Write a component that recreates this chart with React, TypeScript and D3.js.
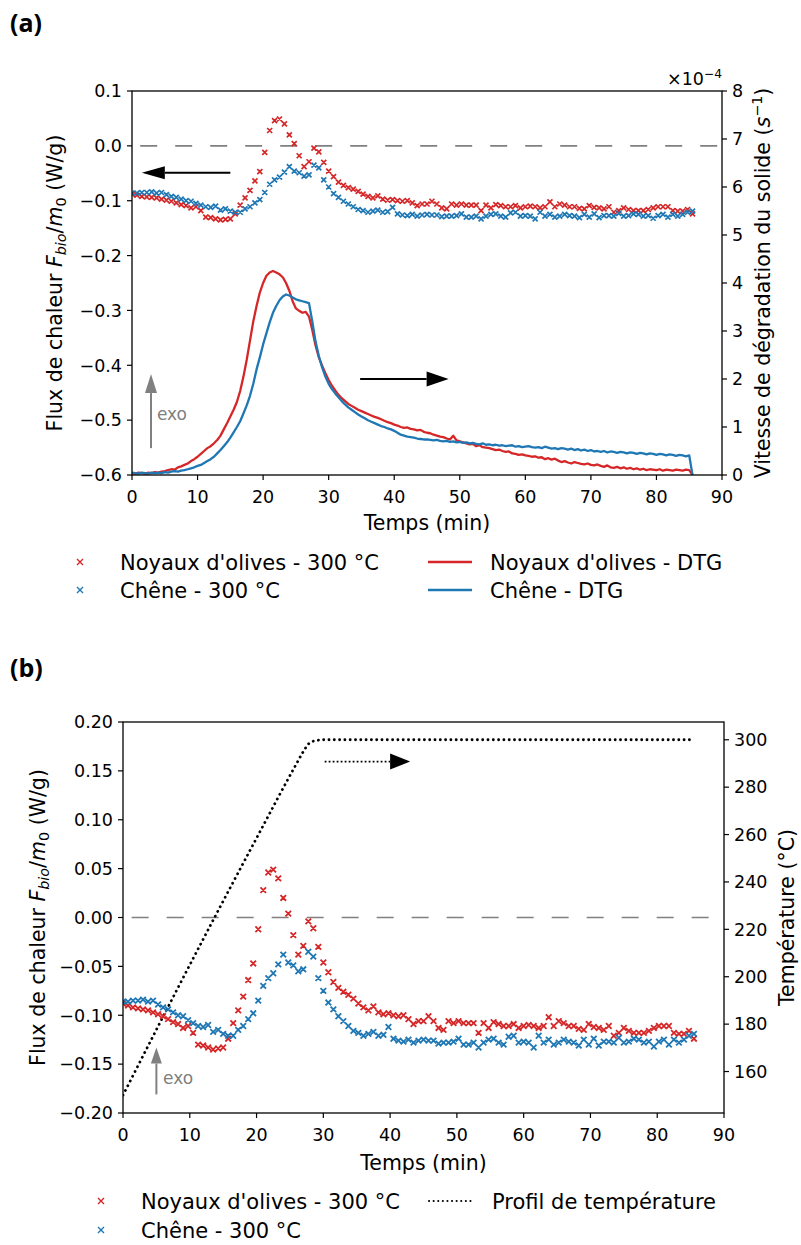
import React from "react";
import * as d3 from "d3";

const RED = "#d62728";
const BLUE = "#1f77b4";
const GRAY = "#808080";
const FONT = "'DejaVu Sans', sans-serif";
const TICK_FS = 17.5;
const LABEL_FS = 20.5;
const LEG_FS = 21;

// ---------- data ----------
// heat-flux scatter, sampled every 0.75 min
const fluxTimes = d3.range(0, 85.5 + 1e-9, 0.75);
const oliveFlux = [
  -0.088, -0.09, -0.092, -0.093, -0.094, -0.095, -0.097, -0.099, -0.101, -0.104,
  -0.107, -0.109, -0.113, -0.111, -0.118, -0.13, -0.131, -0.133, -0.135, -0.134,
  -0.133, -0.124, -0.108, -0.095, -0.081, -0.064, -0.047, -0.012, 0.028, 0.046,
  0.049, 0.04, 0.02, 0.004, -0.018, -0.038, -0.029, -0.004, -0.011, -0.03,
  -0.046, -0.056, -0.066, -0.072, -0.076, -0.079, -0.083, -0.088, -0.092, -0.095,
  -0.091, -0.097, -0.099, -0.098, -0.1, -0.101, -0.1, -0.104, -0.109, -0.106,
  -0.106, -0.101, -0.106, -0.113, -0.115, -0.106, -0.108, -0.106, -0.108, -0.108,
  -0.108, -0.118, -0.108, -0.113, -0.107, -0.109, -0.111, -0.111, -0.109, -0.113,
  -0.111, -0.11, -0.111, -0.113, -0.111, -0.102, -0.111, -0.106, -0.108, -0.111,
  -0.111, -0.114, -0.115, -0.109, -0.112, -0.113, -0.115, -0.111, -0.121, -0.118,
  -0.113, -0.116, -0.118, -0.118, -0.118, -0.116, -0.113, -0.111, -0.111, -0.111,
  -0.118, -0.119, -0.119, -0.116, -0.124,
];
const oakFlux = [
  -0.086, -0.086, -0.085, -0.085, -0.084, -0.086, -0.085, -0.089, -0.092, -0.094,
  -0.097, -0.1, -0.101, -0.105, -0.108, -0.111, -0.112, -0.11, -0.117, -0.115,
  -0.119, -0.121, -0.121, -0.115, -0.111, -0.104, -0.098, -0.085, -0.07, -0.062,
  -0.057, -0.048, -0.038, -0.046, -0.049, -0.055, -0.053, -0.035, -0.04, -0.062,
  -0.075, -0.087, -0.094, -0.101, -0.106, -0.111, -0.116, -0.118, -0.121, -0.119,
  -0.117, -0.121, -0.12, -0.112, -0.124, -0.126,
  -0.127, -0.125, -0.128, -0.126, -0.125, -0.126, -0.126, -0.129, -0.128,
  -0.128, -0.127, -0.124, -0.13, -0.13, -0.128, -0.133, -0.128, -0.125, -0.124,
  -0.128, -0.13, -0.122, -0.121, -0.128, -0.127, -0.128, -0.133, -0.121, -0.128,
  -0.125, -0.13, -0.128, -0.125, -0.127, -0.128, -0.131, -0.125, -0.13, -0.124,
  -0.131, -0.127, -0.127, -0.128, -0.123, -0.128, -0.127, -0.124, -0.125, -0.128,
  -0.127, -0.132, -0.127, -0.125, -0.13, -0.125, -0.128, -0.125, -0.121, -0.119,
];

// DTG curves (×1e-4 s^-1), sampled every 0.5 min
const dtgTimes = d3.range(0, 85.5 + 1e-9, 0.5);
const oliveDTG = [
  0.04, 0.03, 0.05, 0.04, 0.03, 0.05, 0.04, 0.06, 0.05, 0.07,
  0.08, 0.1, 0.12, 0.11, 0.16, 0.18, 0.21, 0.24, 0.29, 0.33,
  0.38, 0.44, 0.5, 0.56, 0.6, 0.66, 0.73, 0.82, 0.95, 1.08,
  1.22, 1.36, 1.52, 1.75, 2.05, 2.4, 2.8, 3.2, 3.52, 3.8,
  4.0, 4.15, 4.22, 4.25, 4.22, 4.18, 4.12, 4.0, 3.84, 3.62,
  3.47, 3.42, 3.38, 3.4, 3.3, 3.02, 2.7, 2.45, 2.28, 2.12,
  1.98, 1.86, 1.76, 1.67, 1.6, 1.54, 1.48, 1.44, 1.4, 1.36,
  1.33, 1.3, 1.27, 1.24, 1.21, 1.19, 1.16, 1.13, 1.1, 1.08,
  1.05, 1.03, 1.0, 0.98, 0.99, 0.96, 0.95, 0.93, 0.94, 0.9,
  0.88, 0.87, 0.84, 0.82, 0.8, 0.79, 0.76, 0.74, 0.82, 0.72,
  0.7, 0.68, 0.66, 0.64, 0.65, 0.6, 0.62, 0.58, 0.57, 0.56,
  0.54, 0.52, 0.53, 0.5, 0.48, 0.49, 0.45, 0.44, 0.42, 0.43,
  0.41, 0.4, 0.38, 0.39, 0.36, 0.37, 0.33, 0.35, 0.32, 0.34,
  0.3, 0.27, 0.29, 0.26, 0.24, 0.27, 0.25, 0.23, 0.22, 0.24,
  0.21, 0.2, 0.22, 0.19, 0.17, 0.2, 0.16, 0.15, 0.17, 0.14,
  0.16, 0.13, 0.15, 0.12, 0.14, 0.11, 0.13, 0.1, 0.12, 0.11,
  0.1, 0.12, 0.09, 0.11, 0.1, 0.09, 0.11, 0.1, 0.09, 0.11,
  0.1, 0.0,
];
const oakDTG = [
  0.05, 0.04, 0.03, 0.05, 0.04, 0.03, 0.05, 0.04, 0.05, 0.04,
  0.06, 0.05, 0.07, 0.08, 0.07, 0.09, 0.1, 0.12, 0.14, 0.16,
  0.19, 0.21, 0.25, 0.29, 0.33, 0.38, 0.45, 0.52, 0.6, 0.68,
  0.78, 0.89, 1.0, 1.12, 1.28, 1.45, 1.65, 1.9, 2.2, 2.45,
  2.72, 2.95, 3.18, 3.38, 3.52, 3.64, 3.72, 3.76, 3.74, 3.7,
  3.66, 3.64, 3.62, 3.6, 3.58, 3.2, 2.78, 2.48, 2.24, 2.05,
  1.9, 1.79, 1.7, 1.62, 1.54, 1.47, 1.41, 1.36, 1.31, 1.26,
  1.22, 1.18, 1.14, 1.11, 1.08, 1.05, 1.02, 1.0, 0.97, 0.95,
  0.92, 0.88, 0.84, 0.82, 0.8, 0.79, 0.78, 0.76, 0.75, 0.74,
  0.74, 0.73, 0.72, 0.73, 0.71, 0.7, 0.71, 0.69, 0.7, 0.68,
  0.69, 0.67, 0.68, 0.66, 0.67, 0.65, 0.64, 0.66, 0.63, 0.64,
  0.62, 0.63, 0.61, 0.62, 0.6, 0.61, 0.62, 0.59, 0.6, 0.58,
  0.59, 0.6, 0.58, 0.57, 0.58, 0.56, 0.59, 0.57, 0.55, 0.56,
  0.54, 0.56, 0.55, 0.53, 0.55, 0.52, 0.54, 0.51, 0.53, 0.5,
  0.52, 0.49, 0.5, 0.48, 0.5, 0.47, 0.49, 0.48, 0.46, 0.48,
  0.47, 0.45, 0.47, 0.46, 0.44, 0.46, 0.45, 0.43, 0.45, 0.44,
  0.42, 0.44, 0.43, 0.41, 0.43, 0.42, 0.4, 0.42, 0.41, 0.39,
  0.41, 0.0,
];

// temperature profile (°C)
const tempTimes = [0, 5.5, 13.8, 20, 26, 27, 28, 29, 30, 40, 50, 60, 70, 80, 85.5];
const tempValues = [150, 180.4, 225.5, 258.5, 290, 295, 298.8, 299.7, 300, 300, 300, 300, 300, 300, 300];

// ticks
const xTicks = [0, 10, 20, 30, 40, 50, 60, 70, 80, 90];
const aLeftTicks = [-0.6, -0.5, -0.4, -0.3, -0.2, -0.1, 0.0, 0.1];
const aRightTicks = [0, 1, 2, 3, 4, 5, 6, 7, 8];
const bLeftTicks = [-0.2, -0.15, -0.1, -0.05, 0.0, 0.05, 0.1, 0.15, 0.2];
const bRightTicks = [160, 180, 200, 220, 240, 260, 280, 300];

// ---------- geometry ----------
const A = { left: 132, right: 722, top: 91, bottom: 475 };
const B = { left: 123, right: 724, top: 722, bottom: 1113 };

const axA = d3.scaleLinear().domain([0, 90]).range([A.left, A.right]);
const ayA = d3.scaleLinear().domain([-0.6, 0.1]).range([A.bottom, A.top]);
const ayA2 = d3.scaleLinear().domain([0, 8]).range([A.bottom, A.top]);
const axB = d3.scaleLinear().domain([0, 90]).range([B.left, B.right]);
const ayB = d3.scaleLinear().domain([-0.2, 0.2]).range([B.bottom, B.top]);
const ayB2 = d3.scaleLinear().domain([142.5, 307.5]).range([B.bottom, B.top]);

function crossPath(xs: number[], ys: number[], sx: any, sy: any, s: number) {
  let d = "";
  xs.forEach((t, i) => {
    const x = sx(t);
    const y = sy(ys[i]);
    d += `M${x - s},${y - s}L${x + s},${y + s}M${x - s},${y + s}L${x + s},${y - s}`;
  });
  return d;
}

function Frame({ g }: { g: typeof A }) {
  return (
    <rect x={g.left} y={g.top} width={g.right - g.left} height={g.bottom - g.top}
      fill="none" stroke="#000" strokeWidth={1.3} />
  );
}

function XAxis({ g, sx }: any) {
  return (
    <g>
      {xTicks.map((t) => (
        <g key={t}>
          <line x1={sx(t)} x2={sx(t)} y1={g.bottom} y2={g.bottom + 5} stroke="#000" strokeWidth={1.2} />
          <text x={sx(t)} y={g.bottom + 28} textAnchor="middle" fontSize={TICK_FS} fontFamily={FONT} fill="#000">{t}</text>
        </g>
      ))}
    </g>
  );
}

function YAxis({ g, sy, ticks, fmt, side }: any) {
  const x0 = side === "left" ? g.left : g.right;
  const dir = side === "left" ? -1 : 1;
  return (
    <g>
      {ticks.map((v: number) => (
        <g key={v}>
          <line x1={x0} x2={x0 + dir * 5} y1={sy(v)} y2={sy(v)} stroke="#000" strokeWidth={1.2} />
          <text x={x0 + dir * 10} y={sy(v) + 6.3} textAnchor={side === "left" ? "end" : "start"}
            fontSize={TICK_FS} fontFamily={FONT} fill="#000">{fmt(v)}</text>
        </g>
      ))}
    </g>
  );
}

function FluxLabel({ x, y }: { x: number; y: number }) {
  return (
    <text transform={`translate(${x},${y}) rotate(-90)`} textAnchor="middle" fontSize={LABEL_FS} fontFamily={FONT} fill="#000">
      Flux de chaleur <tspan fontStyle="italic">F</tspan>
      <tspan fontStyle="italic" fontSize={LABEL_FS * 0.7} dy={4}>bio</tspan>
      <tspan dy={-4}>/</tspan>
      <tspan fontStyle="italic">m</tspan>
      <tspan fontSize={LABEL_FS * 0.7} dy={4}>0</tspan>
      <tspan dy={-4}> (W/g)</tspan>
    </text>
  );
}

function Arrow({ x1, y1, x2, y2, color, width, headLen, headHalf, dash }: any) {
  const ang = Math.atan2(y2 - y1, x2 - x1);
  const bx = x2 - headLen * Math.cos(ang);
  const by = y2 - headLen * Math.sin(ang);
  const px = -Math.sin(ang) * headHalf;
  const py = Math.cos(ang) * headHalf;
  return (
    <g>
      <line x1={x1} y1={y1} x2={bx} y2={by} stroke={color} strokeWidth={width} strokeDasharray={dash} />
      <polygon points={`${x2},${y2} ${bx + px},${by + py} ${bx - px},${by - py}`} fill={color} />
    </g>
  );
}

export default function App() {
  const lineA = d3.line<number>().x((_, i) => axA(dtgTimes[i])).y((v) => ayA2(v));
  const tempLine = d3.line<number>().x((_, i) => axB(tempTimes[i])).y((v) => ayB2(v)).curve(d3.curveMonotoneX);
  const fmt1 = d3.format(".1f");
  const fmt2 = d3.format(".2f");

  return (
    <svg width={801} height={1245} style={{ position: "absolute", left: 0, top: 0, background: "#fff" }}>
      <defs>
        <clipPath id="clipA"><rect x={A.left} y={A.top} width={A.right - A.left} height={A.bottom - A.top} /></clipPath>
        <clipPath id="clipB"><rect x={B.left} y={B.top} width={B.right - B.left} height={B.bottom - B.top} /></clipPath>
      </defs>
      <rect width={801} height={1245} fill="#fff" />

      {/* ================= Panel (a) ================= */}
      <text x={10} y={32} fontSize={25} fontWeight="bold" fontFamily="'Open Sans', 'Liberation Sans', sans-serif">(a)</text>

      <g clipPath="url(#clipA)">
        <line x1={axA(1.25)} x2={A.right} y1={ayA(0)} y2={ayA(0)} stroke={GRAY} strokeWidth={1.6} strokeDasharray="17 18" />
        <path d={crossPath(fluxTimes, oliveFlux, axA, ayA, 2.5)} stroke={RED} strokeWidth={1.7} fill="none" />
        <path d={crossPath(fluxTimes, oakFlux, axA, ayA, 2.5)} stroke={BLUE} strokeWidth={1.7} fill="none" />
        <path d={lineA(oliveDTG) || ""} stroke={RED} strokeWidth={2.3} fill="none" strokeLinejoin="round" />
        <path d={lineA(oakDTG) || ""} stroke={BLUE} strokeWidth={2.3} fill="none" strokeLinejoin="round" />
      </g>

      {/* annotations */}
      <Arrow x1={axA(15)} y1={ayA(-0.049)} x2={axA(1.5)} y2={ayA(-0.049)} color="#000" width={2} headLen={23} headHalf={6.5} />
      <Arrow x1={axA(34.8)} y1={ayA2(2.0)} x2={axA(48.3)} y2={ayA2(2.0)} color="#000" width={2.2} headLen={22} headHalf={7.5} />
      <Arrow x1={axA(2.9)} y1={ayA(-0.551)} x2={axA(2.9)} y2={ayA(-0.416)} color={GRAY} width={2} headLen={19} headHalf={6} />
      <text x={axA(3.8)} y={ayA(-0.5)} fontSize={17} fontFamily={FONT} fill={GRAY}>exo</text>

      <Frame g={A} />
      <XAxis g={A} sx={axA} />
      <YAxis g={A} sy={ayA} ticks={aLeftTicks} fmt={fmt1} side="left" />
      <YAxis g={A} sy={ayA2} ticks={aRightTicks} fmt={(v: number) => String(v)} side="right" />

      <text x={A.right} y={85} textAnchor="end" fontSize={TICK_FS} fontFamily={FONT} fill="#000">
        ×10<tspan fontSize={TICK_FS * 0.7} dy={-7}>−4</tspan>
      </text>

      <FluxLabel x={62} y={(A.top + A.bottom) / 2} />
      <text transform={`translate(770,${(A.top + A.bottom) / 2}) rotate(-90)`} textAnchor="middle" fontSize={LABEL_FS} fontFamily={FONT} fill="#000">
        Vitesse de dégradation du solide (<tspan fontStyle="italic">s</tspan>
        <tspan fontSize={LABEL_FS * 0.7} dy={-8}>−1</tspan>
        <tspan dy={8}>)</tspan>
      </text>
      <text x={(A.left + A.right) / 2} y={530} textAnchor="middle" fontSize={LABEL_FS} fontFamily={FONT} fill="#000">Temps (min)</text>

      {/* legend (a) */}
      <g fontFamily={FONT} fontSize={LEG_FS} fill="#000">
        <path d={`M77,559L83,565M77,565L83,559`} stroke={RED} strokeWidth={1.4} />
        <text x={120} y={569.5}>Noyaux d'olives - 300 °C</text>
        <path d={`M77,587L83,593M77,593L83,587`} stroke={BLUE} strokeWidth={1.4} />
        <text x={120} y={597.5}>Chêne - 300 °C</text>
        <line x1={428} x2={472} y1={562} y2={562} stroke={RED} strokeWidth={2.3} />
        <text x={490} y={569.5}>Noyaux d'olives - DTG</text>
        <line x1={428} x2={472} y1={590} y2={590} stroke={BLUE} strokeWidth={2.3} />
        <text x={490} y={597.5}>Chêne - DTG</text>
      </g>

      {/* ================= Panel (b) ================= */}
      <text x={10} y={677} fontSize={25} fontWeight="bold" fontFamily="'Open Sans', 'Liberation Sans', sans-serif">(b)</text>

      <g clipPath="url(#clipB)">
        <line x1={axB(1.3)} x2={B.right} y1={ayB(0)} y2={ayB(0)} stroke={GRAY} strokeWidth={1.6} strokeDasharray="17 18" />
        <path d={tempLine(tempValues) || ""} stroke="#000" strokeWidth={2.8} fill="none" strokeDasharray="0.1 5.2" strokeLinecap="round" />
        <path d={crossPath(fluxTimes, oliveFlux, axB, ayB, 2.8)} stroke={RED} strokeWidth={1.8} fill="none" />
        <path d={crossPath(fluxTimes, oakFlux, axB, ayB, 2.8)} stroke={BLUE} strokeWidth={1.8} fill="none" />
      </g>

      <Arrow x1={axB(30.2)} y1={ayB2(290.8)} x2={axB(43)} y2={ayB2(290.8)} color="#000" width={1.8} headLen={20} headHalf={8} dash="1.8 2.2" />
      <Arrow x1={axB(5)} y1={ayB(-0.181)} x2={axB(5)} y2={ayB(-0.133)} color={GRAY} width={2} headLen={16} headHalf={5.5} />
      <text x={axB(6)} y={ayB(-0.17)} fontSize={17} fontFamily={FONT} fill={GRAY}>exo</text>

      <Frame g={B} />
      <XAxis g={B} sx={axB} />
      <YAxis g={B} sy={ayB} ticks={bLeftTicks} fmt={fmt2} side="left" />
      <YAxis g={B} sy={ayB2} ticks={bRightTicks} fmt={(v: number) => String(v)} side="right" />

      <FluxLabel x={45} y={(B.top + B.bottom) / 2} />
      <text transform={`translate(794,${(B.top + B.bottom) / 2}) rotate(-90)`} textAnchor="middle" fontSize={LABEL_FS} fontFamily={FONT} fill="#000">
        Température (°C)
      </text>
      <text x={(B.left + B.right) / 2} y={1170} textAnchor="middle" fontSize={LABEL_FS} fontFamily={FONT} fill="#000">Temps (min)</text>

      {/* legend (b) */}
      <g fontFamily={FONT} fontSize={LEG_FS} fill="#000">
        <path d={`M98,1198L104,1204M98,1204L104,1198`} stroke={RED} strokeWidth={1.4} />
        <text x={141} y={1208.5}>Noyaux d'olives - 300 °C</text>
        <path d={`M98,1227L104,1233M98,1233L104,1227`} stroke={BLUE} strokeWidth={1.4} />
        <text x={141} y={1237.5}>Chêne - 300 °C</text>
        <line x1={429} x2={475} y1={1201} y2={1201} stroke="#000" strokeWidth={2} strokeDasharray="0.1 4.5" strokeLinecap="round" />
        <text x={492} y={1208.5}>Profil de température</text>
      </g>
    </svg>
  );
}
